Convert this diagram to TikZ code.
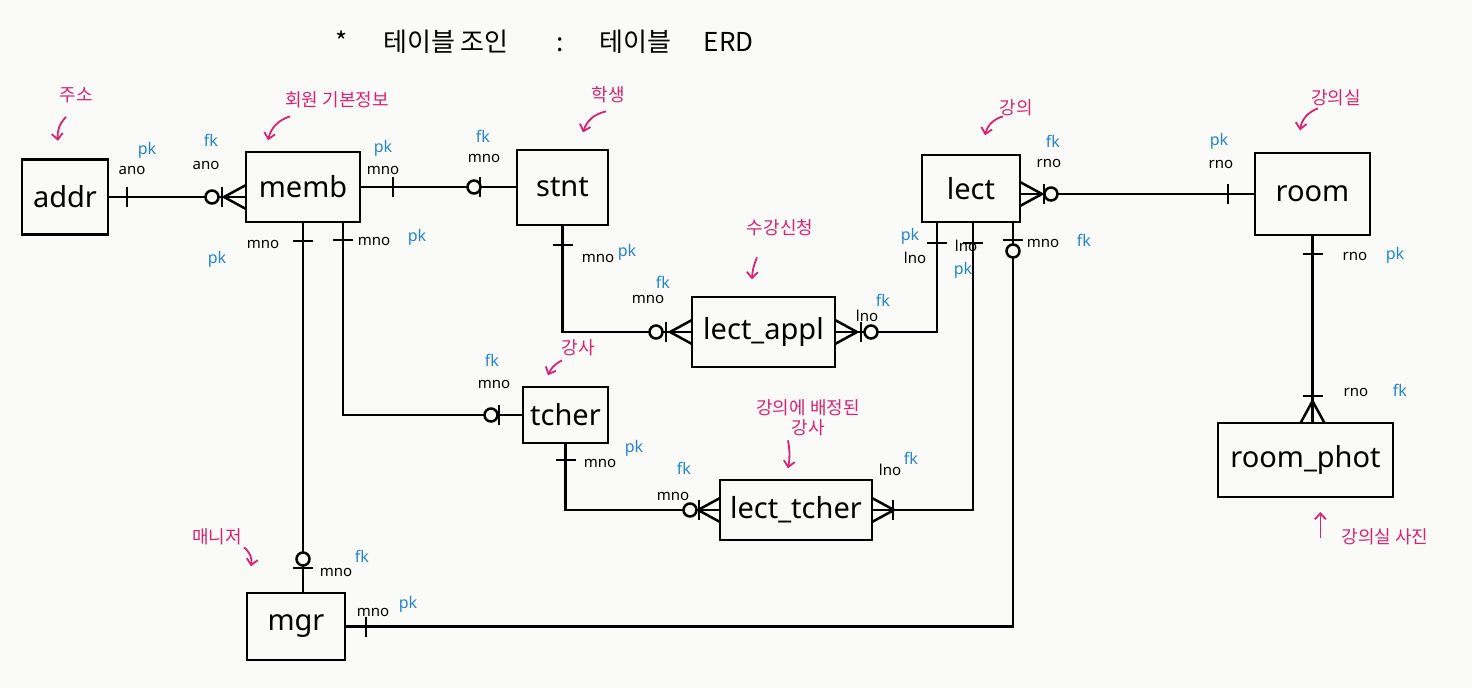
\documentclass[tikz,border=0pt]{standalone}
\usepackage{fontspec}
\setmainfont{Noto Sans}
\newfontfamily\kofont{Noto Sans CJK KR}
\usetikzlibrary{arrows.meta}
\definecolor{notepink}{RGB}{214,36,112}
\definecolor{keyblue}{RGB}{38,132,200}
\definecolor{bgcol}{RGB}{250,250,249}
\tikzset{
  ent/.style={draw, line width=2.6pt, inner sep=0pt, font=\fontsize{29}{29}\selectfont},
  rel/.style={line width=2.5pt},
  attr/.style={inner sep=0pt, font=\fontsize{15}{15}\selectfont},
  keytag/.style={inner sep=0pt, text=keyblue, font=\fontsize{16}{16}\selectfont},
  note/.style={inner sep=0pt, text=notepink, align=center, font=\kofont\fontsize{18}{20}\selectfont},
  notearrow/.style={draw=notepink, line width=1.8pt, -{Straight Barb[length=6pt,width=11pt]}},
  onemark/.pic={\draw[rel] (0,-10) -- (0,10);},
  ringmark/.pic={\draw[rel, fill=bgcol] (0,0) circle (6.5pt);},
  crowmark/.pic={\draw[rel] (-22,0) -- (0,-12) (-22,0) -- (0,12);},
}
\begin{document}
\begin{tikzpicture}[x=1pt, y=-1pt]
  \fill[bgcol] (0,0) rectangle (1472,688);
  \useasboundingbox (0,0) rectangle (1472,688);

  % title
  \node[inner sep=0pt, anchor=west, font=\kofont\fontsize{26}{26}\selectfont] (title) at (335,42)
    {*\hspace{36pt}테이블 조인\hspace{48pt}:\hspace{36pt}테이블\hspace{32pt}ERD};

  % tables
  \node[ent, minimum width=86pt, minimum height=75pt] (addr) at (65,197) {addr};
  \node[ent, minimum width=114pt, minimum height=70pt] (memb) at (303,187) {memb};
  \node[ent, minimum width=91pt, minimum height=75pt] (stnt) at (562.5,187.5) {stnt};
  \node[ent, minimum width=98pt, minimum height=67pt] (lect) at (971,188.5) {lect};
  \node[ent, minimum width=115pt, minimum height=82pt] (room) at (1312.5,194) {room};
  \node[ent, minimum width=143pt, minimum height=70pt] (lectappl) at (763.5,332) {lect\_appl};
  \node[ent, minimum width=85pt, minimum height=56pt] (tcher) at (565.5,415) {tcher};
  \node[ent, minimum width=152pt, minimum height=60pt] (lecttcher) at (796,510) {lect\_tcher};
  \node[ent, minimum width=175pt, minimum height=74pt] (roomphot) at (1305.5,460) {room\_phot};
  \node[ent, minimum width=98pt, minimum height=67pt] (mgr) at (296,626.5) {mgr};

  % relations
  \draw[rel] (addr.east) -- (addr.east -| memb.west);
  \draw[rel] (memb.east) -- (memb.east -| stnt.west);
  \draw[rel] (stnt.south) |- (lectappl.west);
  \draw[rel] (lectappl.east) -| ([xshift=-34pt]lect.south);
  \draw[rel] ([xshift=2pt]lect.south) |- (lecttcher.east);
  \draw[rel] (tcher.south) |- (lecttcher.west);
  \draw[rel] ([xshift=40pt]memb.south) |- (tcher.west);
  \draw[rel] (memb.south) -- (memb.south |- mgr.north);
  \draw[rel] ([xshift=42pt]lect.south) |- (mgr.east);
  \draw[rel] (lect.east |- room.west) -- (room.west);
  \draw[rel] (room.south) -- (room.south |- roomphot.north);

  % cardinality marks
  \pic at (127,197) {onemark};
  \pic at (212,197) {ringmark};
  \pic at (222,197) {onemark};
  \pic at (246,197) {crowmark};

  \pic at (393,187) {onemark};
  \pic at (474,187) {ringmark};
  \pic at (480,187) {onemark};

  \pic[rotate=90] at (562.5,245) {onemark};
  \pic at (656,332) {ringmark};
  \pic at (666,332) {onemark};
  \pic at (692,332) {crowmark};

  \pic[rotate=180] at (835,332) {crowmark};
  \pic at (861,332) {onemark};
  \pic at (871,332) {ringmark};
  \pic[rotate=90] at (937,243) {onemark};

  \pic[rotate=90] at (973,243) {onemark};
  \pic[rotate=180] at (872,510) {crowmark};
  \pic at (893,510) {onemark};

  \pic[rotate=90] at (565.5,460) {onemark};
  \pic at (690,510) {ringmark};
  \pic at (699,510) {onemark};
  \pic at (720,510) {crowmark};

  \pic[rotate=90] at (343,240) {onemark};
  \pic at (491,415) {ringmark};
  \pic at (499,415) {onemark};

  \pic[rotate=90] at (303,241) {onemark};
  \pic at (303,559) {ringmark};
  \pic[rotate=90] at (303,568) {onemark};

  \pic[rotate=90] at (1013,240) {onemark};
  \pic at (1013,251) {ringmark};
  \pic at (366,626.5) {onemark};

  \pic[rotate=180] at (1020,194) {crowmark};
  \pic at (1044,194) {onemark};
  \pic at (1051,194) {ringmark};
  \pic at (1228,194) {onemark};

  \pic[rotate=90] at (1312.5,254) {onemark};
  \pic[rotate=90] at (1312.5,396) {onemark};
  \pic[rotate=-90] at (1312.5,423) {crowmark};

  % key columns
  \node[attr] (ano-a) at (132,170) {ano};
  \node[keytag] (pk-a) at (147,150) {pk};
  \node[attr] (ano-m) at (206,165) {ano};
  \node[keytag] (fk-m) at (211,140) {fk};

  \node[attr] (mno-ms) at (383,170) {mno};
  \node[keytag] (pk-ms) at (383,148) {pk};
  \node[attr] (mno-sm) at (484,158) {mno};
  \node[keytag] (fk-sm) at (483,136) {fk};

  \node[attr] (mno-sa) at (598,258) {mno};
  \node[keytag] (pk-sa) at (627,252) {pk};
  \node[attr] (mno-as) at (648,299) {mno};
  \node[keytag] (fk-as) at (663,282) {fk};

  \node[attr] (lno-al) at (867,316) {lno};
  \node[keytag] (fk-al) at (883,300) {fk};
  \node[keytag] (pk-la) at (910,236) {pk};
  \node[attr] (lno-la) at (915,258) {lno};

  \node[attr] (lno-lt) at (966,246) {lno};
  \node[keytag] (pk-lt) at (963,270) {pk};
  \node[attr] (lno-tl) at (890,470) {lno};
  \node[keytag] (fk-tl) at (911,458) {fk};

  \node[attr] (mno-tt) at (600,463) {mno};
  \node[keytag] (pk-tt) at (634,448) {pk};
  \node[attr] (mno-ct) at (673,496) {mno};
  \node[keytag] (fk-ct) at (684,468) {fk};

  \node[attr] (mno-mt) at (374,241) {mno};
  \node[keytag] (pk-mt) at (417,237) {pk};
  \node[attr] (mno-tm) at (494,384) {mno};
  \node[keytag] (fk-tm) at (492,360) {fk};

  \node[attr] (mno-mg) at (263,244) {mno};
  \node[keytag] (pk-mg) at (217,259) {pk};
  \node[attr] (mno-gm) at (336,572) {mno};
  \node[keytag] (fk-gm) at (362,556) {fk};

  \node[attr] (mno-lg) at (1043,243) {mno};
  \node[keytag] (fk-lg) at (1084,240) {fk};
  \node[attr] (mno-gl) at (373,612) {mno};
  \node[keytag] (pk-gl) at (408,604) {pk};

  \node[attr] (rno-lr) at (1049,163) {rno};
  \node[keytag] (fk-lr) at (1053,141) {fk};
  \node[attr] (rno-rl) at (1221,164) {rno};
  \node[keytag] (pk-rl) at (1219,141) {pk};

  \node[attr] (rno-rp) at (1355,256) {rno};
  \node[keytag] (pk-rp) at (1395,255) {pk};
  \node[attr] (rno-pr) at (1356,392) {rno};
  \node[keytag] (fk-pr) at (1400,390) {fk};

  % notes
  \node[note] (n-addr) at (76,95) {주소};
  \node[note] (n-memb) at (337,100) {회원 기본정보};
  \node[note] (n-stnt) at (608,95) {학생};
  \node[note] (n-appl) at (780,228) {수강신청};
  \node[note] (n-tcher) at (578,348) {강사};
  \node[note] (n-lect) at (1016,108) {강의};
  \node[note] (n-room) at (1336,98) {강의실};
  \node[note] (n-lt) at (808,418) {강의에 배정된\\강사};
  \node[note] (n-mgr) at (217,537) {매니저};
  \node[note] (n-phot) at (1385,537) {강의실 사진};

  \draw[notearrow] (n-addr.south) ++(-10,14) to[bend right=25] ++(-8,24);
  \draw[notearrow] (n-memb.south west) ++(5,8) to[bend right=30] ++(-22,24);
  \draw[notearrow] (n-stnt.south) ++(-2,8) to[bend right=30] ++(-23,21);
  \draw[notearrow] (n-appl.south) ++(-23,21) to[bend right=10] ++(-5,22);
  \draw[notearrow] (n-tcher.south) ++(-16,4) to[bend right=20] ++(-14,15);
  \draw[notearrow] (n-lect.south) ++(-13,0) to[bend right=30] ++(-18,19);
  \draw[notearrow] (n-room.south) ++(-18,2) to[bend right=30] ++(-18,22);
  \draw[notearrow] (n-lt.south) ++(-20,4) to[bend left=10] ++(0,28);
  \draw[notearrow] (n-mgr.south east) ++(2,2) to[bend left=30] ++(7,19);
  \draw[notearrow] (n-phot.west) ++(-21,1) -- ++(0,-26);
\end{tikzpicture}
\end{document}
